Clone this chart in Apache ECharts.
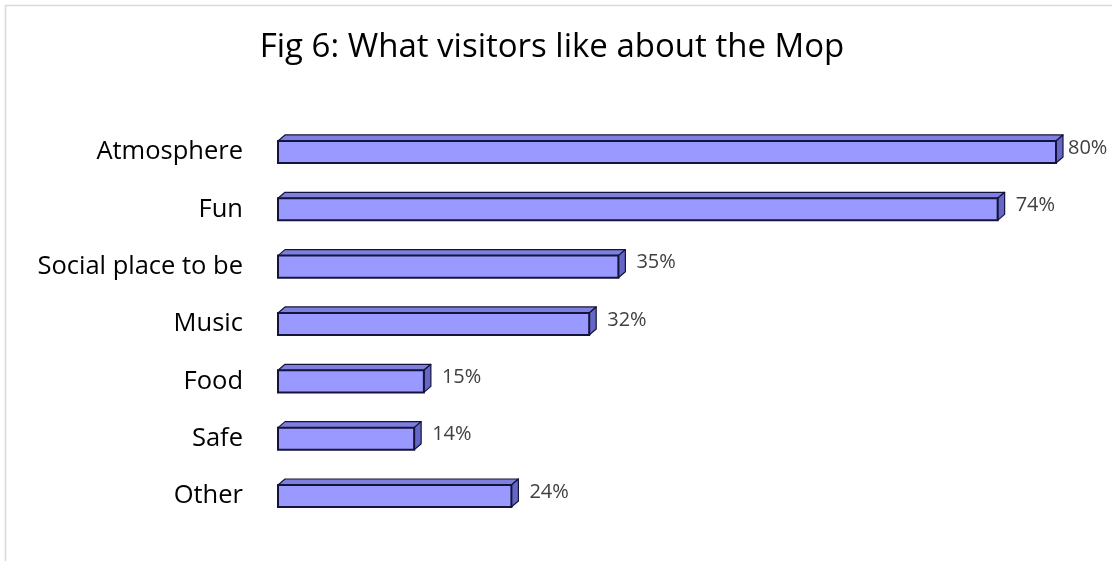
<!DOCTYPE html>
<html>
<head>
<meta charset="utf-8">
<title>Fig 6</title>
<script src="https://cdn.jsdelivr.net/npm/echarts@6/dist/echarts.min.js"></script>
<style>
  html, body { margin: 0; padding: 0; background: #fff; }
  #chart { width: 1112px; height: 561px; }
</style>
</head>
<body>
<div id="chart"></div>
<script>
// Survey answers: share of visitors naming each thing they like (%)
const categories = ['Atmosphere', 'Fun', 'Social place to be', 'Music', 'Food', 'Safe', 'Other'];
const percentages = [80, 74, 35, 32, 15, 14, 24];

const FONT = '"Open Sans", "Noto Sans", sans-serif';
const DEPTH_X = 7;      // bevel offset to the right
const DEPTH_Y = -6;     // bevel offset upward
const BAR_RATIO = 0.385;
const LABEL_MAX_X = 1068;

const chart = echarts.init(document.getElementById('chart'), null, { renderer: 'canvas' });

function renderBox(params, api) {
  const cat = api.value(0);
  const val = api.value(1);
  const p0 = api.coord([0, cat]);
  const p1 = api.coord([val, cat]);
  const h = api.size([0, 1])[1] * BAR_RATIO;
  const x0 = p0[0], x1 = p1[0];
  const yT = p0[1] - h / 2, yB = p0[1] + h / 2;
  const stroke = '#14143a';
  const labelX = Math.min(x1 + DEPTH_X + 11, LABEL_MAX_X);
  return {
    type: 'group',
    children: [
      { // top face
        type: 'polygon',
        shape: { points: [[x0, yT], [x0 + DEPTH_X, yT + DEPTH_Y], [x1 + DEPTH_X, yT + DEPTH_Y], [x1, yT]] },
        style: { fill: '#7f7fe0', stroke: stroke, lineWidth: 1.2, lineJoin: 'round' }
      },
      { // right face
        type: 'polygon',
        shape: { points: [[x1, yT], [x1 + DEPTH_X, yT + DEPTH_Y], [x1 + DEPTH_X, yB + DEPTH_Y], [x1, yB]] },
        style: { fill: '#6666c8', stroke: stroke, lineWidth: 1.2, lineJoin: 'round' }
      },
      { // front face
        type: 'rect',
        shape: { x: x0, y: yT, width: x1 - x0, height: h },
        style: { fill: '#9999ff', stroke: stroke, lineWidth: 2 }
      },
      {
        type: 'text',
        x: labelX,
        y: p0[1] - 4,
        style: {
          text: val + '%',
          fill: '#404040',
          font: '20px ' + FONT,
          align: 'left',
          verticalAlign: 'middle'
        }
      }
    ]
  };
}

chart.setOption({
  backgroundColor: '#ffffff',
  animation: false,
  title: {
    text: 'Fig 6: What visitors like about the Mop',
    left: 547,
    textAlign: 'center',
    top: 26,
    textStyle: { fontFamily: FONT, fontSize: 33, fontWeight: 'normal', color: '#000000' }
  },
  graphic: [{
    type: 'rect',
    shape: { x: 5.5, y: 5.5, width: 1200, height: 700 },
    style: { fill: 'none', stroke: '#d9d9d9', lineWidth: 1.5 },
    silent: true
  }],
  grid: { left: 278, right: 56, top: 123.3, bottom: 36.3 },
  xAxis: {
    type: 'value',
    min: 0,
    max: 80,
    show: false
  },
  yAxis: {
    type: 'category',
    data: categories,
    inverse: true,
    axisLine: { show: false },
    axisTick: { show: false },
    axisLabel: {
      margin: 35,
      fontFamily: FONT,
      fontSize: 25.5,
      color: '#000000'
    }
  },
  series: [{
    type: 'custom',
    renderItem: renderBox,
    encode: { x: 1, y: 0 },
    data: percentages.map((v, i) => [i, v]),
    clip: false
  }]
});
</script>
</body>
</html>
